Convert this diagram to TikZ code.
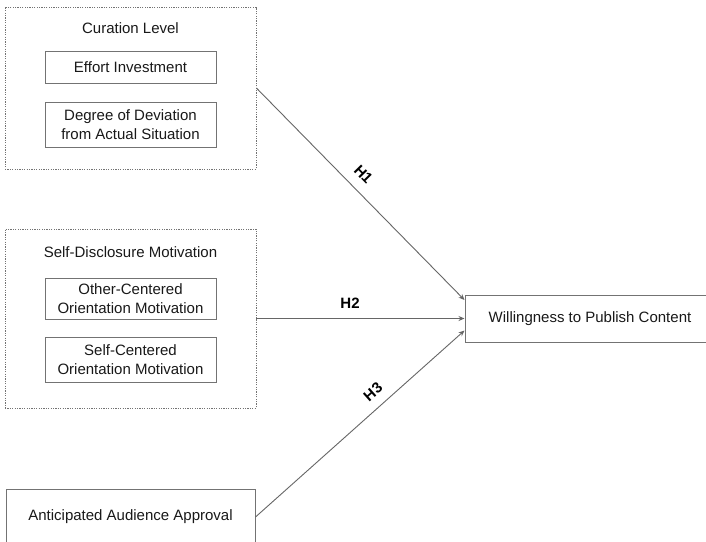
\documentclass[tikz,border=0pt]{standalone}
\usepackage{fontspec}
\setmainfont{Liberation Sans}
\usetikzlibrary{arrows.meta}
\begin{document}
\begin{tikzpicture}[x=1pt,y=-1pt,
  grp/.style={draw=black!55,line width=0.8pt,dash pattern=on 1.2pt off 1.2pt,inner sep=0pt},
  box/.style={draw=black!55,line width=1pt,inner sep=0pt,align=center,font=\fontsize{15}{19}\selectfont,text=black!90},
  lbl/.style={font=\fontsize{15}{19}\selectfont,text=black!90},
  hyp/.style={font=\bfseries\fontsize{15}{18}\selectfont,text=black},
  conn/.style={draw=black!60,line width=0.9pt,-{Stealth[length=6pt,width=5pt]}}]
\useasboundingbox (0,0) rectangle (706,541);
\clip (0,0) rectangle (706,541);
\fill[white] (0,0) rectangle (706,541);
% Curation level group
\node[grp,minimum width=251pt,minimum height=162pt] (cur) at (130.5,88) {};
\node[lbl] (curl) at (130.5,28) {Curation Level};
\node[box,minimum width=171pt,minimum height=32pt] (eff) at (130.5,67) {Effort Investment};
\node[box,minimum width=171pt,minimum height=45pt] (dev) at (130.5,124.5) {Degree of Deviation\\from Actual Situation};
% Self-disclosure group
\node[grp,minimum width=251pt,minimum height=179pt] (sd) at (130.5,318.5) {};
\node[lbl] (sdl) at (130.5,252) {Self-Disclosure Motivation};
\node[box,minimum width=171pt,minimum height=41pt] (oth) at (130.5,298.5) {Other-Centered\\Orientation Motivation};
\node[box,minimum width=171pt,minimum height=45pt] (self) at (130.5,359.5) {Self-Centered\\Orientation Motivation};
% Anticipated
\node[box,minimum width=249pt,minimum height=56pt] (ant) at (130.5,517) {Anticipated Audience Approval};
% Willingness
\node[box,minimum width=250pt,minimum height=47pt] (will) at (590,318.5) {Willingness to Publish Content};
% connectors
\draw[conn] (cur.east) -- ([yshift=18.5pt]will.west) node[pos=0.46,hyp,sloped,above=7pt] (h1) {H1};
\draw[conn] (sd.east) -- (will.west) node[pos=0.45,hyp,above=6pt] (h2) {H2};
\draw[conn] (ant.east) -- ([yshift=-12pt]will.west) node[pos=0.61,hyp,sloped,above=6pt] (h3) {H3};
\end{tikzpicture}
\end{document}
